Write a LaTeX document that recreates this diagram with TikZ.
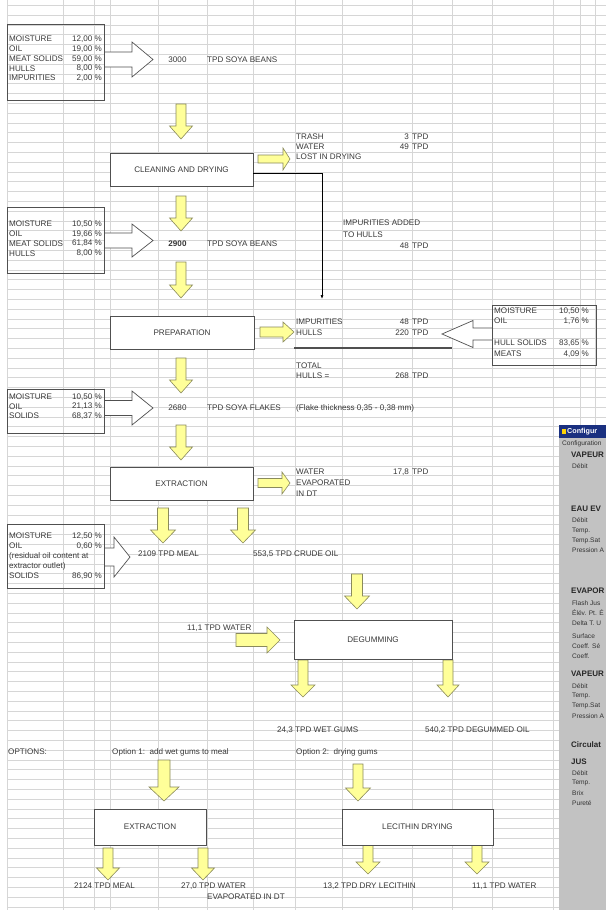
\documentclass[tikz,border=0pt]{standalone}
\usepackage{fontspec}
\setmainfont{Liberation Sans}
\usetikzlibrary{arrows.meta,calc}
\definecolor{gridc}{HTML}{D6D6D6}
\definecolor{txtc}{HTML}{383838}
\definecolor{boxc}{HTML}{505050}
\definecolor{yel}{HTML}{FFFF99}
\definecolor{yeld}{HTML}{8A8A5C}
\definecolor{panelc}{HTML}{C2C2C2}
\definecolor{titleb}{HTML}{1A3080}
\newcommand{\ydn}[6]{\filldraw[yarr] (#1-#4,#2) -- (#1+#4,#2) -- (#1+#4,#3-#6) -- (#1+#5,#3-#6) -- (#1,#3) -- (#1-#5,#3-#6) -- (#1-#4,#3-#6) -- cycle;}
\newcommand{\yrt}[6]{\filldraw[yarr] (#2,#1-#4) -- (#3-#6,#1-#4) -- (#3-#6,#1-#5) -- (#3,#1) -- (#3-#6,#1+#5) -- (#3-#6,#1+#4) -- (#2,#1+#4) -- cycle;}
\newcommand{\oar}[6]{%
 \fill[white] (#1,#4-#5) -- (#2,#4-#5) -- (#2,#4-#6) -- (#3,#4) -- (#2,#4+#6) -- (#2,#4+#5) -- (#1,#4+#5) -- cycle;
 \draw[oarr] (#1,#4-#5) -- (#2,#4-#5) -- (#2,#4-#6) -- (#3,#4) -- (#2,#4+#6) -- (#2,#4+#5) -- (#1,#4+#5);}
\begin{document}
\begin{tikzpicture}[x=1pt,y=-1pt,
  lbl/.style={font=\fontsize{8.1}{9}\selectfont, text=txtc, inner sep=0pt, anchor=west},
  rlbl/.style={lbl, anchor=east},
  clbl/.style={lbl, anchor=center},
  procbox/.style={draw=boxc, fill=white, line width=0.8pt, font=\fontsize{8.1}{9}\selectfont, text=txtc, inner sep=0pt},
  databox/.style={draw=boxc, line width=0.9pt, inner sep=0pt},
  yarr/.style={fill=yel, draw=yeld, line width=0.6pt},
  oarr/.style={draw=boxc, line width=0.7pt},
  conn/.style={draw=black, line width=0.6pt, -{Latex[length=4pt,width=3pt]}},
  ptxt/.style={font=\fontsize{6.6}{7}\selectfont, text=black!80, inner sep=0pt, anchor=west},
  phead/.style={font=\fontsize{8}{9}\selectfont\bfseries, text=black!85, inner sep=0pt, anchor=west}
]
\useasboundingbox (0,0) rectangle (606,910);
\fill[white] (0,0) rectangle (606,910);
% spreadsheet grid
\foreach \gx in {7,63,94,110,158,207,253,295,342,412,452,492,553,580,595}
  \draw[gridc, line width=0.5pt] (\gx,0) -- (\gx,910);
\foreach \k in {0,...,92}
  \draw[gridc, line width=0.5pt] (7,5.2+9.8*\k) -- (606,5.2+9.8*\k);

% open (white) arrows from data boxes
\oar{104}{132}{153}{59.5}{7.5}{17.5}
\oar{104}{132}{153}{240.5}{7.5}{16.5}
\oar{104}{132}{153}{408}{7.5}{17}
\oar{104}{114}{130}{557}{9}{20}
\oar{492}{473}{442}{334}{6}{13.5}

% data boxes
\node[databox, minimum width=97pt, minimum height=76pt, anchor=north west] (d1) at (7,24) {};
\node[databox, minimum width=97pt, minimum height=66pt, anchor=north west] (d2) at (7,207) {};
\node[databox, minimum width=97pt, minimum height=44pt, anchor=north west] (d3) at (7,389) {};
\node[databox, minimum width=97pt, minimum height=64pt, anchor=north west] (d4) at (7,524) {};
\node[databox, minimum width=104pt, minimum height=60pt, anchor=north west] (d5) at (492,305) {};

% yellow down arrows
\ydn{181}{104}{139}{5}{11.5}{13}
\ydn{181}{196}{231}{5}{11.5}{13}
\ydn{181}{262}{298}{5}{11.5}{13}
\ydn{181}{358}{393}{5}{11.5}{13}
\ydn{181}{425}{460}{5}{11.5}{13}
\ydn{163}{508}{543}{5.5}{12.5}{13}
\ydn{243}{508}{543}{5.5}{12.5}{13}
\ydn{357}{574}{609}{5.5}{12.5}{13}
\ydn{303}{660}{697}{5}{12}{12}
\ydn{448}{660}{697}{5}{11}{12}
\ydn{164}{760}{801}{6}{15}{14}
\ydn{358}{764}{801}{5}{12.5}{13}
\ydn{108}{848}{880}{5}{11.5}{12}
\ydn{203}{848}{880}{5}{11.5}{12}
\ydn{368}{840}{874}{5}{12}{12}
\ydn{477}{840}{874}{5}{12}{12}
% yellow right arrows
\yrt{159}{258}{290}{4}{11}{7}
\yrt{332}{260}{294}{5}{10}{11}
\yrt{483}{258}{290}{4.5}{11}{8}
\yrt{640}{236}{280}{6.5}{13}{13}

% process boxes
\node[procbox, minimum width=143pt, minimum height=33pt] (clean) at (181.5,169.5) {CLEANING AND DRYING};
\node[procbox, minimum width=144pt, minimum height=33pt] (prep) at (182,332.5) {PREPARATION};
\node[procbox, minimum width=143pt, minimum height=33pt] (extr) at (181.5,483.5) {EXTRACTION};
\node[procbox, minimum width=158pt, minimum height=39pt] (degum) at (373,639.5) {DEGUMMING};
\node[procbox, minimum width=112pt, minimum height=36pt] (extr2) at (150,827) {EXTRACTION};
\node[procbox, minimum width=151pt, minimum height=36pt] (lec) at (417.5,827) {LECITHIN DRYING};

% impurities connector
\coordinate (impin) at (322,299);
\draw[conn] ($(clean.east)+(0,3.5)$) -| (impin);
% total line
\draw[boxc, line width=1.6pt] (294,348) -- (452,348);

% box 1
\node[lbl] (a1) at (9,39) {MOISTURE};
\node[lbl] (a2) at (9,49) {OIL};
\node[lbl] (a3) at (9,59) {MEAT SOLIDS};
\node[lbl] (a4) at (9,68.5) {HULLS};
\node[lbl] (a5) at (9,78) {IMPURITIES};
\node[rlbl] (av1) at (102,39) {12,00 \%};
\node[rlbl] (av2) at (102,49) {19,00 \%};
\node[rlbl] (av3) at (102,59) {59,00 \%};
\node[rlbl] (av4) at (102,68.5) {8,00 \%};
\node[rlbl] (av5) at (102,78) {2,00 \%};
\node[clbl] (f1) at (177.5,59.5) {3000};
\node[lbl] (f1t) at (207,59.5) {TPD SOYA BEANS};
% cleaning outputs
\node[lbl] (c1) at (296,137) {TRASH};
\node[lbl] (c2) at (296,147) {WATER};
\node[lbl] (c3) at (296,157) {LOST IN DRYING};
\node[rlbl] (c1v) at (409,137) {3};
\node[lbl] (c1u) at (412,137) {TPD};
\node[rlbl] (c2v) at (409,147) {49};
\node[lbl] (c2u) at (412,147) {TPD};
\node[lbl] (i1) at (343,223) {IMPURITIES ADDED};
\node[lbl] (i2) at (343,234.5) {TO HULLS};
\node[rlbl] (i3v) at (409,246) {48};
\node[lbl] (i3u) at (412,246) {TPD};
% box 2
\node[lbl] (b1) at (9,224) {MOISTURE};
\node[lbl] (b2) at (9,234) {OIL};
\node[lbl] (b3) at (9,243.5) {MEAT SOLIDS};
\node[lbl] (b4) at (9,253.5) {HULLS};
\node[rlbl] (bv1) at (102,224) {10,50 \%};
\node[rlbl] (bv2) at (102,234) {19,66 \%};
\node[rlbl] (bv3) at (102,243.5) {61,84 \%};
\node[rlbl] (bv4) at (102,253.5) {8,00 \%};
\node[clbl, font=\fontsize{8.1}{9}\selectfont\bfseries] (f2) at (177.5,243.5) {2900};
\node[lbl] (f2t) at (207,243.5) {TPD SOYA BEANS};
% preparation outputs
\node[lbl] (p1) at (296,322) {IMPURITIES};
\node[lbl] (p2) at (296,332.5) {HULLS};
\node[rlbl] (p1v) at (409,322) {48};
\node[lbl] (p1u) at (412,322) {TPD};
\node[rlbl] (p2v) at (409,332.5) {220};
\node[lbl] (p2u) at (412,332.5) {TPD};
\node[lbl] (p3) at (296,366) {TOTAL};
\node[lbl] (p4) at (296,376) {HULLS =};
\node[rlbl] (p4v) at (409,376) {268};
\node[lbl] (p4u) at (412,376) {TPD};
% hull box
\node[lbl] (h1) at (494,311) {MOISTURE};
\node[lbl] (h2) at (494,321) {OIL};
\node[lbl] (h3) at (494,343) {HULL SOLIDS};
\node[lbl] (h4) at (494,354) {MEATS};
\node[rlbl] (hv1) at (589,311) {10,50 \%};
\node[rlbl] (hv2) at (589,321) {1,76 \%};
\node[rlbl] (hv3) at (589,343) {83,65 \%};
\node[rlbl] (hv4) at (589,354) {4,09 \%};
% box 3
\node[lbl] (e1) at (9,397) {MOISTURE};
\node[lbl] (e2) at (9,406.5) {OIL};
\node[lbl] (e3) at (9,416) {SOLIDS};
\node[rlbl] (ev1) at (102,397) {10,50 \%};
\node[rlbl] (ev2) at (102,406.5) {21,13 \%};
\node[rlbl] (ev3) at (102,416) {68,37 \%};
\node[clbl] (f3) at (177.5,408) {2680};
\node[lbl] (f3t) at (207,408) {TPD SOYA FLAKES};
\node[lbl] (f3n) at (296,408) {(Flake thickness 0,35 - 0,38 mm)};
% extraction outputs
\node[lbl] (x1) at (296,472) {WATER};
\node[rlbl] (x1v) at (409,472) {17,8};
\node[lbl] (x1u) at (412,472) {TPD};
\node[lbl] (x2) at (296,483) {EVAPORATED};
\node[lbl] (x3) at (296,494) {IN DT};
% box 4
\node[lbl] (m1) at (9,536) {MOISTURE};
\node[lbl] (m2) at (9,546) {OIL};
\node[lbl] (m3) at (9,556) {(residual oil content at};
\node[lbl] (m4) at (9,566) {extractor outlet)};
\node[lbl] (m5) at (9,576) {SOLIDS};
\node[rlbl] (mv1) at (102,536) {12,50 \%};
\node[rlbl] (mv2) at (102,546) {0,60 \%};
\node[rlbl] (mv5) at (102,576) {86,90 \%};
\node[lbl] (meal) at (138,554) {2109 TPD MEAL};
\node[lbl] (crude) at (253,554) {553,5 TPD CRUDE OIL};
% degumming
\node[lbl] (w1) at (187,628) {11,1 TPD WATER};
\node[lbl] (g1) at (277,730) {24,3 TPD WET GUMS};
\node[lbl] (g2) at (425,730) {540,2 TPD DEGUMMED OIL};
% options
\node[lbl] (o0) at (8,752) {OPTIONS:};
\node[lbl] (o1) at (112,752) {Option 1:\ \ add wet gums to meal};
\node[lbl] (o2) at (296,752) {Option 2:\ \ drying gums};
% bottom outputs
\node[lbl] (z1) at (74,886) {2124 TPD MEAL};
\node[lbl] (z2) at (181,886) {27,0 TPD WATER};
\node[lbl] (z2b) at (207,897) {EVAPORATED IN DT};
\node[lbl] (z3) at (323,886) {13,2 TPD DRY LECITHIN};
\node[lbl] (z4) at (472,886) {11,1 TPD WATER};

% configuration window (right edge)
\fill[panelc] (559,425) rectangle (606,910);
\fill[titleb] (559,425) rectangle (606,437.5);
\begin{scope}
\clip (559,425) rectangle (606,910);
\fill[yellow!70!orange] (561.5,428.5) rectangle (565.5,434);
\node[font=\fontsize{7.2}{8}\selectfont\bfseries, text=white, inner sep=0pt, anchor=west] (q0) at (567,431.5) {Configur};
\node[ptxt] (q1) at (562,444) {Configuration};
\node[phead] (q2) at (571,454.5) {VAPEUR};
\node[ptxt] (q3) at (572,466) {Débit};
\node[phead] (q4) at (571,508.5) {EAU EV};
\node[ptxt] (q5) at (572,520.5) {Débit};
\node[ptxt] (q6) at (572,530.5) {Temp.};
\node[ptxt] (q7) at (572,540.5) {Temp.Sat};
\node[ptxt] (q8) at (572,550.5) {Pression A};
\node[phead] (q9) at (571,590.5) {EVAPOR};
\node[ptxt] (q10) at (572,603) {Flash Jus};
\node[ptxt] (q11) at (572,613) {Élév. Pt. É};
\node[ptxt] (q12) at (572,623) {Delta T. U};
\node[ptxt] (q13) at (572,636) {Surface};
\node[ptxt] (q14) at (572,646) {Coeff. Sé};
\node[ptxt] (q15) at (572,656) {Coeff.};
\node[phead] (q16) at (571,673.5) {VAPEUR};
\node[ptxt] (q17) at (572,686) {Débit};
\node[ptxt] (q18) at (572,696) {Temp.};
\node[ptxt] (q19) at (572,706) {Temp.Sat};
\node[ptxt] (q20) at (572,716) {Pression A};
\node[phead] (q21) at (571,744.5) {Circulat};
\node[phead] (q22) at (571,762) {JUS};
\node[ptxt] (q23) at (572,773) {Débit};
\node[ptxt] (q24) at (572,783) {Temp.};
\node[ptxt] (q25) at (572,793) {Brix};
\node[ptxt] (q26) at (572,803) {Pureté};
\end{scope}
\end{tikzpicture}
\end{document}
